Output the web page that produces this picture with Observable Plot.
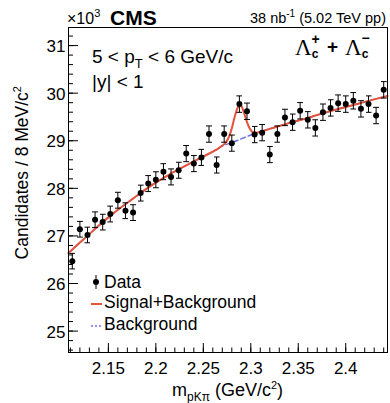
<!DOCTYPE html>
<html><head><meta charset="utf-8">
<script src="https://cdn.jsdelivr.net/npm/d3@7"></script>
<script src="https://cdn.jsdelivr.net/npm/@observablehq/plot@0.6"></script>
<style>html,body{margin:0;padding:0;background:#fff}</style>
</head><body><div id="chart"></div>
<script>
// ---- data (units: GeV/c^2 and 10^3 candidates) ----
const massBins = [2.112,2.120,2.128,2.136,2.144,2.152,2.160,2.168,2.176,2.184,2.192,2.200,2.208,2.216,
  2.224,2.232,2.240,2.248,2.256,2.264,2.272,2.280,2.288,2.296,2.304,2.312,2.320,2.328,
  2.336,2.344,2.352,2.360,2.368,2.376,2.384,2.392,2.400,2.408,2.416,2.424,2.432,2.440];
const candidates = [26.47,27.14,27.02,27.34,27.29,27.46,27.75,27.53,27.49,27.90,28.10,28.18,28.35,28.24,
  28.38,28.73,28.52,28.65,29.14,28.49,29.14,28.95,29.77,29.62,29.13,29.17,28.71,29.14,
  29.49,29.39,29.63,29.44,29.27,29.60,29.69,29.79,29.77,29.84,29.67,29.77,29.53,30.07];
const candErr = [0.163,0.165,0.164,0.165,0.165,0.166,0.167,0.166,0.166,0.167,0.168,0.168,0.168,0.168,
  0.168,0.170,0.169,0.169,0.171,0.169,0.171,0.170,0.173,0.172,0.171,0.171,0.170,0.171,
  0.172,0.171,0.172,0.172,0.171,0.172,0.172,0.173,0.173,0.173,0.172,0.173,0.172,0.173];
const fitMass = [2.108,2.120,2.130,2.140,2.150,2.160,2.175,2.190,2.200,2.215,2.230,2.245,2.260,2.266,
  2.270,2.274,2.277,2.280,2.283,2.286,2.288,2.290,2.293,2.296,2.299,2.302,2.306,2.310,
  2.325,2.340,2.355,2.370,2.385,2.400,2.415,2.430,2.444];
const fitSB = [26.64,26.86,27.04,27.22,27.39,27.55,27.77,27.99,28.12,28.30,28.46,28.62,28.77,28.84,
  28.90,28.97,29.08,29.26,29.50,29.69,29.75,29.73,29.58,29.39,29.25,29.18,29.17,29.19,
  29.28,29.37,29.45,29.54,29.63,29.71,29.79,29.87,29.94];
const bkgMass = [2.108,2.120,2.130,2.140,2.150,2.160,2.175,2.190,2.200,2.215,2.230,2.245,2.260,2.270,
  2.280,2.290,2.300,2.310,2.325,2.340,2.355,2.370,2.385,2.400,2.415,2.430,2.444];
const bkgVals = [26.64,26.86,27.04,27.22,27.39,27.55,27.77,27.99,28.12,28.30,28.46,28.62,28.77,28.89,
  28.96,29.04,29.12,29.19,29.28,29.37,29.45,29.54,29.63,29.71,29.79,29.87,29.94];
const xTickValues = [2.15,2.2,2.25,2.3,2.35,2.4];
const xTickLabels = ["2.15","2.2","2.25","2.3","2.35","2.4"];
const yTickValues = [25,26,27,28,29,30,31];
const yTickLabels = ["25","26","27","28","29","30","31"];
const legendLabels = ["Data","Signal+Background","Background"];

// ---- layout / style ----
const W = 390, H = 403, mL = 68, mR = 3, mT = 27, mB = 51;
const FW = W - mL - mR, FH = H - mT - mB;
const FONT = "'Liberation Sans', Arial, Helvetica, sans-serif";
const SERIF = "'Liberation Serif', 'Times New Roman', serif";
const RED = "#e4533a", BLUE = "#6f6ff0";

const pts = massBins.map((m, i) => ({m, y: candidates[i], lo: candidates[i] - candErr[i], hi: candidates[i] + candErr[i]}));
const sb = fitMass.map((m, i) => ({m, y: fitSB[i]}));
const bg = bkgMass.map((m, i) => ({m, y: bkgVals[i]}));
const xMinor = d3.range(2.11, 2.4451, 0.01);
const yMinor = d3.range(24.6, 31.381, 0.2);

const chart = Plot.plot({
  width: W, height: H, marginLeft: mL, marginRight: mR, marginTop: mT, marginBottom: mB,
  x: {domain: [2.108, 2.444], axis: null},
  y: {domain: [24.55, 31.38], axis: null},
  style: {fontFamily: FONT, background: "white", color: "black", overflow: "visible"},
  marks: [
    Plot.tickX(xMinor, {x: d => d, insetTop: FH - 4.5, stroke: "black"}),
    Plot.tickX(xTickValues, {x: d => d, insetTop: FH - 9, stroke: "black"}),
    Plot.tickY(yMinor, {y: d => d, insetRight: FW - 5, stroke: "black"}),
    Plot.tickY(yTickValues, {y: d => d, insetRight: FW - 10, stroke: "black"}),
    Plot.text(xTickValues, {x: d => d, text: (d, i) => xTickLabels[i], frameAnchor: "bottom", lineAnchor: "top", dy: 9, fontSize: 17, fill: "black"}),
    Plot.text(yTickValues, {y: d => d, text: (d, i) => yTickLabels[i], frameAnchor: "left", textAnchor: "end", dx: -3, dy: 1, fontSize: 17, fill: "black"}),
    Plot.line(bg, {x: "m", y: "y", curve: "monotone-x", stroke: BLUE, strokeWidth: 1.5, strokeDasharray: "5,3"}),
    Plot.line(sb, {x: "m", y: "y", curve: "monotone-x", stroke: RED, strokeWidth: 2}),
    Plot.link(pts, {x1: "m", x2: "m", y1: "lo", y2: "hi", stroke: "black", strokeWidth: 1, markerStart: "tick", markerEnd: "tick"}),
    Plot.dot(pts, {x: "m", y: "y", r: 3, fill: "black"}),
    Plot.frame({stroke: "black", strokeWidth: 1})
  ]
});
document.getElementById("chart").appendChild(chart);

// ---- rich-text annotations ----
const svg = d3.select(chart);
function rich(x, y, parts, o = {}) {
  const t = svg.append("text")
    .attr("transform", `translate(${x},${y})${o.rotate ? ` rotate(${o.rotate})` : ""}`)
    .attr("font-family", o.family || FONT)
    .attr("font-size", o.size || 17)
    .attr("font-weight", o.weight || "normal")
    .attr("text-anchor", o.anchor || "start")
    .attr("fill", "black");
  let cur = 0;
  for (const p of parts) {
    const s = t.append("tspan").text(p.t);
    const shift = p.shift || 0;
    if (shift - cur) s.attr("dy", shift - cur);
    cur = shift;
    if (p.dx) s.attr("dx", p.dx);
    if (p.size) s.attr("font-size", p.size);
    if (p.weight) s.attr("font-weight", p.weight);
    if (p.family) s.attr("font-family", p.family);
  }
  return t;
}
// header
rich(67, 24, [{t: "×10"}, {t: "3", size: 11, shift: -7}], {size: 16});
rich(110, 25, [{t: "CMS"}], {size: 21, weight: "bold"});
rich(386, 23, [{t: "38 nb"}, {t: "-1", size: 10, shift: -6}, {t: " (5.02 TeV pp)"}], {size: 14.5, anchor: "end"});
// kinematics
rich(92, 63, [{t: "5 < p"}, {t: "T", size: 13, shift: 5}, {t: " < 6 GeV/c"}], {size: 19});
rich(92, 88, [{t: "|y| < 1"}], {size: 19});
// particle label
rich(295, 55, [
  {t: "Λ", family: SERIF, size: 23},
  {t: "c", size: 12, weight: "bold", shift: 3},
  {t: "+", size: 14, weight: "bold", shift: -11, dx: -7}
]);
rich(327, 53, [{t: "+"}], {size: 19, weight: "bold"});
rich(345, 55, [
  {t: "Λ", family: SERIF, size: 23},
  {t: "c", size: 12, weight: "bold", shift: 3},
  {t: "−", size: 14, weight: "bold", shift: -12, dx: -7}
]);
// axis titles
rich(28, 86, [{t: "Candidates / 8 MeV/c"}, {t: "2", size: 11, shift: -7}], {size: 17.5, rotate: -90, anchor: "end"});
rich(mL + FW / 2, 396, [{t: "m"}, {t: "pKπ", size: 12, shift: 5}, {t: " (GeV/c"}, {t: "2", size: 11, shift: -7}, {t: ")"}], {size: 18, anchor: "middle"});

// legend
const lg = svg.append("g");
lg.append("line").attr("x1", 96).attr("x2", 96).attr("y1", 275).attr("y2", 289).attr("stroke", "black");
lg.append("circle").attr("cx", 96).attr("cy", 282).attr("r", 3).attr("fill", "black");
lg.append("line").attr("x1", 91).attr("x2", 102).attr("y1", 304).attr("y2", 304).attr("stroke", RED).attr("stroke-width", 2);
lg.append("line").attr("x1", 91).attr("x2", 102).attr("y1", 326).attr("y2", 326).attr("stroke", BLUE).attr("stroke-width", 1.5).attr("stroke-dasharray", "2,2");
[288, 308, 330].forEach((yy, i) => rich(104, yy, [{t: legendLabels[i]}], {size: 17.5}));
</script>
</body></html>
